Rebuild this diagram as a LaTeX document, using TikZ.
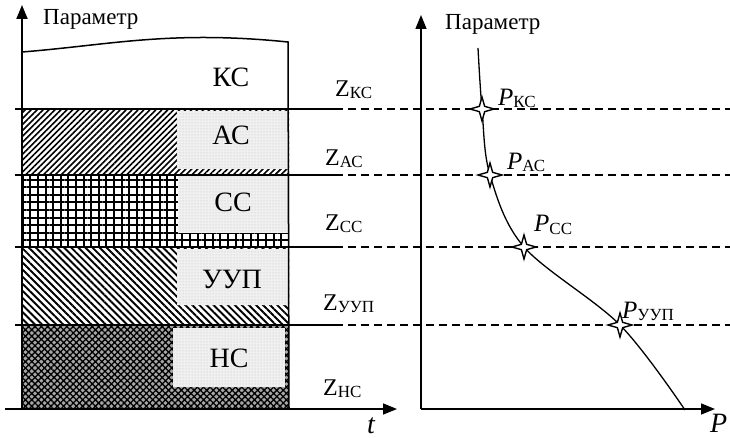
\documentclass[tikz,border=0pt]{standalone}
\usepackage{fontspec}
\setmainfont{Liberation Serif}
\usetikzlibrary{arrows.meta,patterns,patterns.meta,shapes.geometric}
\newcommand\fsz[1]{\fontsize{#1}{#1}\selectfont}
\newcommand\zlab[1]{{\fsz{24}Z}\raisebox{-2pt}{\fsz{17}#1}}
\newcommand\plab[1]{{\fsz{25}\itshape P}\raisebox{-2pt}{\fsz{17}#1}}
\begin{document}
\begin{tikzpicture}[x=1pt,y=-1pt,
 axis/.style={line width=1.5pt,-{Triangle[length=14pt,width=11pt]}},
 divider/.style={line width=2.5pt},
 level/.style={line width=2pt,dash pattern=on 8pt off 5pt},
 lbl/.style={anchor=base,inner sep=0pt,font=\fsz{28}},
 zl/.style={anchor=base west,inner sep=0pt},
 ttl/.style={anchor=base west,inner sep=0pt,font=\fsz{23}},
 pt/.style={star,star points=4,star point ratio=3.2,draw,fill=white,line width=1.4pt,minimum size=24pt,inner sep=0pt},
 graybox/.style={fill=black!6,pattern={Dots[distance=3pt,radius=0.5pt]},pattern color=black!25},
]
\useasboundingbox (0,0) rectangle (730,438);
% layers
\path[pattern={Lines[angle=45,distance=4.2pt,line width=1.6pt]}] (22,109) rectangle (289,175);
\fill[black!6] (177,111) rectangle (288,169);
\path[graybox] (177,111) rectangle (288,169);
\path[pattern={Hatch[angle=0,distance=7.6pt,line width=2pt]}] (22,175) rectangle (289,247);
\fill[black!6] (178,176) rectangle (288,233);
\path[graybox] (178,176) rectangle (288,233);
\path[pattern={Lines[angle=-45,distance=5pt,line width=1.9pt]}] (22,247) rectangle (289,325);
\fill[black!6] (177,249) rectangle (288,305);
\path[graybox] (177,249) rectangle (288,305);
\fill[black!35] (22,325) rectangle (289,409);
\path[pattern={Hatch[angle=45,distance=4.5pt,line width=1.3pt]}] (22,325) rectangle (289,409);
\fill[black!6] (173,328) rectangle (285,387);
\path[graybox] (173,328) rectangle (285,387);
% outline
\draw[line width=1.5pt] (22,52) .. controls (110,45) and (170,30) .. (288,42) -- (289,409);
% coordinates
\coordinate (o1) at (22,409);
\coordinate (y1) at (22,5);
\coordinate (t1) at (397,409);
\coordinate (o2) at (421,409);
\coordinate (y2) at (421,15);
\coordinate (x2) at (715,409);
\draw[axis,line width=2pt] (o1) -- (y1);
\draw[axis] (289,409) -- (t1);
\draw[divider] (5,409) -- (290,409);
\draw[axis] (o2) -- (y2);
\draw[axis] (o2) -- (x2);
% dividers
\foreach \yy/\nm in {109/a,175/b,247/c,325/d}{
  \coordinate (l\nm) at (15,\yy);
  \coordinate (m\nm) at (335,\yy);
  \coordinate (r\nm) at (730,\yy);
  \draw[divider] (l\nm) -- (m\nm);
  \draw[level] (m\nm) -- (r\nm);
}
% curve
\draw[line width=1.3pt] plot[smooth,tension=0.55] coordinates {(478,48) (482,109) (490,175) (524,247) (620,325) (685,410)};
\node[pt] (s1) at (482,109) {};
\node[pt] (s2) at (490,175) {};
\node[pt] (s3) at (524,247) {};
\node[pt] (s4) at (620,325) {};
% labels
\node[lbl] (kc) at (231,87) {КС};
\node[lbl] (ac) at (231,145) {АС};
\node[lbl] (cc) at (233,212) {СС};
\node[lbl] (uup) at (232,288) {УУП};
\node[lbl] (nc) at (229,367) {НС};
\node[zl] (z1) at (335,97) {\zlab{КС}};
\node[zl] (z2) at (325,166) {\zlab{АС}};
\node[zl] (z3) at (325,230) {\zlab{СС}};
\node[zl] (z4) at (323,310) {\zlab{УУП}};
\node[zl] (z5) at (323,395) {\zlab{НС}};
\node[zl] (p1) at (498,106) {\plab{КС}};
\node[zl] (p2) at (507,170) {\plab{АС}};
\node[zl] (p3) at (534,232) {\plab{СС}};
\node[zl] (p4) at (622,318) {\plab{УУП}};
\node[ttl] (par1) at (43,25) {Параметр};
\node[ttl] (par2) at (445,30) {Параметр};
\node[anchor=base,inner sep=0pt,font=\fsz{28}\itshape] (tl) at (371,433) {t};
\node[anchor=base west,inner sep=0pt,font=\fsz{28}\itshape] (pl) at (710,432) {P};
\end{tikzpicture}
\end{document}
